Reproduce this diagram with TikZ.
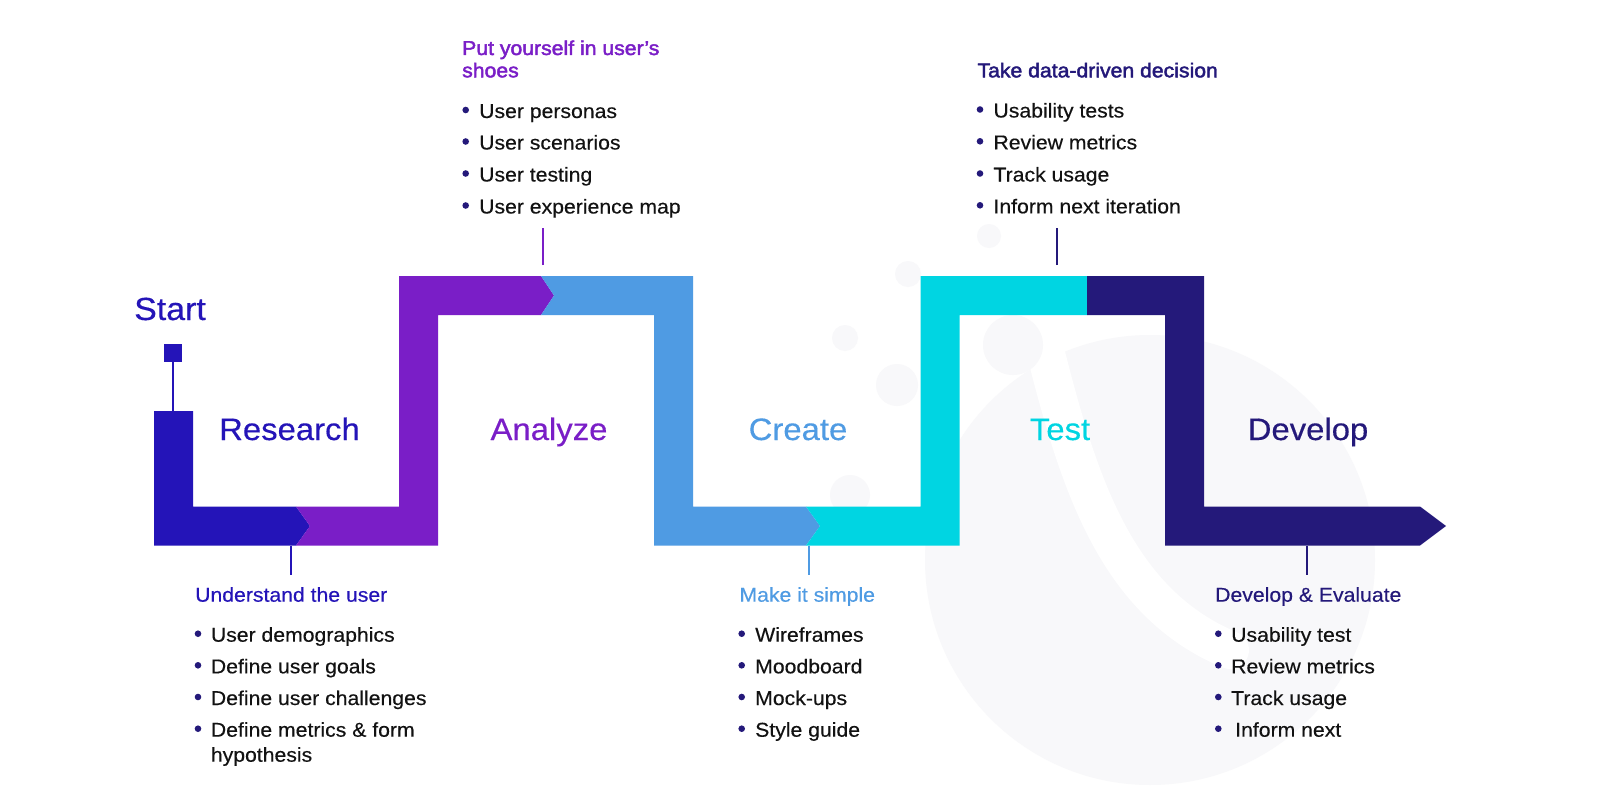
\documentclass[tikz,border=0pt]{standalone}
\usepackage{fontspec}
\setmainfont{Liberation Sans}
\newfontfamily\mainf[FakeStretch=1.06,FakeBold=0.35]{Liberation Sans}
\newfontfamily\semif[FakeStretch=1.06,FakeBold=2.2]{Liberation Sans}
\definecolor{cres}{HTML}{2414B8}
\definecolor{cana}{HTML}{7A1EC7}
\definecolor{ccre}{HTML}{4F9BE3}
\definecolor{ctes}{HTML}{00D5E2}
\definecolor{cdev}{HTML}{24197A}
\definecolor{ctxt}{HTML}{121212}
\definecolor{cbg}{HTML}{F8F8FA}
\tikzset{
  phase/.style={font=\mainf\fontsize{31}{36}\selectfont, anchor=base, inner sep=0pt},
  head/.style={font=\mainf\fontsize{20}{24}\selectfont, anchor=base west, inner sep=0pt},
  headb/.style={font=\semif\fontsize{20}{22.3}\selectfont, anchor=base west, inner sep=0pt},
  item/.style={font=\mainf\fontsize{20}{25}\selectfont, anchor=base west, inner sep=0pt, text=ctxt},
  dot/.style={circle, fill=cdev, inner sep=0pt, minimum size=6.6pt},
  conn/.style={line width=2pt},
  bubble/.style={fill=cbg, draw=none}
}
\begin{document}
\begin{tikzpicture}[x=1pt,y=-1pt]
\useasboundingbox (0,0) rectangle (1600,800);
\fill[white] (0,0) rectangle (1600,800);
% faint background watermark
\fill[bubble] (1150,560) circle (225);
\draw[white, line width=38pt, line cap=round] (1040,330) .. controls (1075,470) and (1110,600) .. (1230,650);
\fill[bubble] (989,236) circle (12);
\fill[bubble] (908,274) circle (13);
\fill[bubble] (845,338) circle (13);
\fill[bubble] (897,385) circle (21);
\fill[bubble] (1013,345) circle (30);
\fill[bubble] (850,495) circle (20);
\fill[bubble] (908,527) circle (15);
% path segments
\fill[cres] (154,411) -- (193,411) -- (193,506.5) -- (296,506.5) -- (310,526) -- (296,545.5) -- (154,545.5) -- cycle;
\fill[cana] (296,506.5) -- (399,506.5) -- (399,276) -- (541,276) -- (554,295.5) -- (541,315) -- (438,315) -- (438,545.5) -- (296,545.5) -- (310,526) -- cycle;
\fill[ccre] (541,276) -- (693,276) -- (693,506.5) -- (806,506.5) -- (820,526) -- (806,545.5) -- (654,545.5) -- (654,315) -- (541,315) -- (554,295.5) -- cycle;
\fill[ctes] (806,506.5) -- (920.5,506.5) -- (920.5,276) -- (1087,276) -- (1087,315) -- (959.5,315) -- (959.5,545.5) -- (806,545.5) -- (820,526) -- cycle;
\fill[cdev] (1087,276) -- (1204,276) -- (1204,506.5) -- (1420,506.5) -- (1446,526) -- (1420,545.5) -- (1165,545.5) -- (1165,315) -- (1087,315) -- cycle;
% start marker
\node[fill=cres, minimum size=18pt, inner sep=0pt] (startsq) at (173,353) {};
\coordinate (startbar) at (173,411);
\draw[cres, conn] (startsq.south) -- (startbar);
\node[font=\mainf\fontsize{32}{36}\selectfont, text=cres, anchor=base west, inner sep=0pt] (start) at (134,320) {Start};
% phase labels
\node[phase, text=cres] (research) at (289.5,440) {Research};
\node[phase, text=cana] (analyze) at (549,440) {Analyze};
\node[phase, text=ccre] (create) at (798,440) {Create};
\node[phase, text=ctes] (test) at (1060,440) {Test};
\node[phase, text=cdev] (develop) at (1308,440) {Develop};
% connector end points
\coordinate (r1) at (291,545.5); \coordinate (r2) at (291,575);
\coordinate (a1) at (542.7,265); \coordinate (a2) at (542.7,228);
\coordinate (c1) at (809,545.5); \coordinate (c2) at (809,575);
\coordinate (t1) at (1056.7,265); \coordinate (t2) at (1056.7,228);
\coordinate (d1) at (1306.7,545.5); \coordinate (d2) at (1306.7,575);
\draw[conn, cres] (r1) -- (r2);
\draw[conn, cana] (a1) -- (a2);
\draw[conn, ccre] (c1) -- (c2);
\draw[conn, cdev] (t1) -- (t2);
\draw[conn, cdev] (d1) -- (d2);
% Research list
\node[head, text=cres] (hres) at (195,601.7) {Understand the user};
\node[item] (r-i1) at (210.7,641.7) {User demographics};
\node[item] (r-i2) at (210.7,673.3) {Define user goals};
\node[item] (r-i3) at (210.7,705) {Define user challenges};
\node[item] (r-i4) at (210.7,736.7) {Define metrics \& form};
\node[item] (r-i4b) at (210.7,761.7) {hypothesis};
\foreach \yy in {641.7,673.3,705,736.7} \node[dot] at (198,\yy-8) {};
% Analyze list
\node[headb, text=cana] (hana) at (462,55) {Put yourself in user’s};
\node[headb, text=cana] (hana2) at (462,77.3) {shoes};
\node[item] (a-i1) at (479,118) {User personas};
\node[item] (a-i2) at (479,149.5) {User scenarios};
\node[item] (a-i3) at (479,181.5) {User testing};
\node[item] (a-i4) at (479,213.5) {User experience map};
\foreach \yy in {118,149.5,181.5,213.5} \node[dot] at (465.7,\yy-8) {};
% Create list
\node[head, text=ccre] (hcre) at (739.3,601.7) {Make it simple};
\node[item] (c-i1) at (755,641.7) {Wireframes};
\node[item] (c-i2) at (755,673.3) {Moodboard};
\node[item] (c-i3) at (755,705) {Mock-ups};
\node[item] (c-i4) at (755,736.7) {Style guide};
\foreach \yy in {641.7,673.3,705,736.7} \node[dot] at (741.7,\yy-8) {};
% Test list
\node[headb, text=cdev] (htes) at (977.3,77.3) {Take data-driven decision};
\node[item] (t-i1) at (993.3,117.5) {Usability tests};
\node[item] (t-i2) at (993.3,149.3) {Review metrics};
\node[item] (t-i3) at (993.3,181.5) {Track usage};
\node[item] (t-i4) at (993.3,213.3) {Inform next iteration};
\foreach \yy in {117.5,149.3,181.5,213.3} \node[dot] at (980,\yy-8) {};
% Develop list
\node[head, text=cdev] (hdev) at (1215,601.7) {Develop \& Evaluate};
\node[item] (d-i1) at (1231,641.7) {Usability test};
\node[item] (d-i2) at (1231,673.3) {Review metrics};
\node[item] (d-i3) at (1231,705) {Track usage};
\node[item] (d-i4) at (1235,736.7) {Inform next};
\foreach \yy in {641.7,673.3,705,736.7} \node[dot] at (1218.3,\yy-8) {};
\end{tikzpicture}
\end{document}
